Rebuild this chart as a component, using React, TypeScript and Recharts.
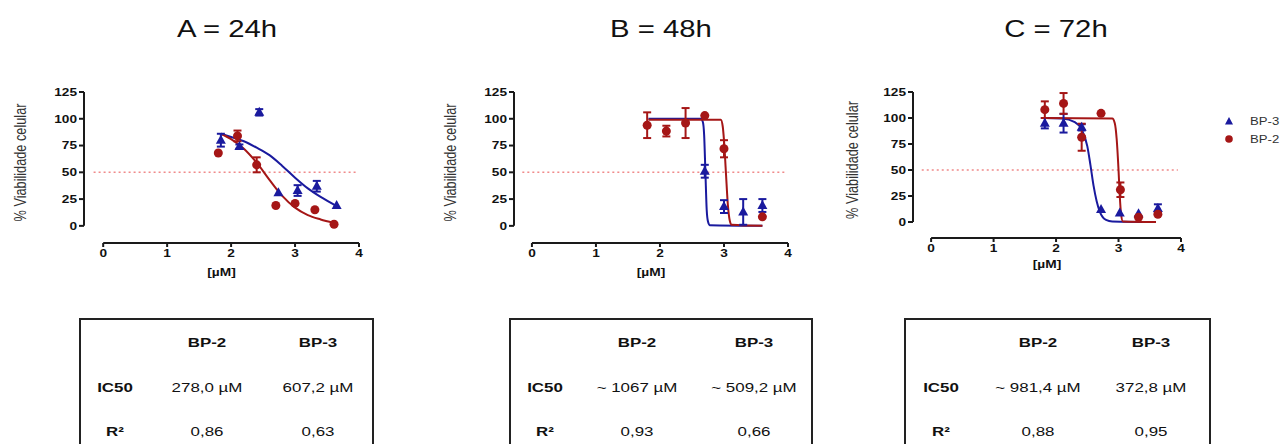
import React from 'react';
import { ComposedChart, Line, Scatter, XAxis, YAxis, ReferenceLine, ErrorBar } from 'recharts';

const FONT = '"Liberation Sans", Arial, sans-serif';
const BLUE = '#1a1a9e';
const RED = '#a51616';
const AXIS = '#1a1a1a';
const HALF = '#f08a8a';
// the source picture is stretched sideways, so text is widened to match
const STRETCH = 1.3;

const TITLES = ['A = 24h', 'B = 48h', 'C = 72h'];
const X_TICKS = [0, 1, 2, 3, 4];
const Y_TICKS = [0, 25, 50, 75, 100, 125];
const X_LABEL = '[µM]';
const Y_LABEL = '% Viabilidade celular';
const SERIES = ['BP-3', 'BP-2'];

// 24h
const A_BP3_X = [1.84, 2.13, 2.44, 2.74, 3.04, 3.34, 3.65];
const A_BP3_Y = [80, 74, 106, 31, 33, 37, 19];
const A_BP3_ERR = [6, 2, 3, 0, 5, 5, 0];
const A_BP2_X = [1.8, 2.1, 2.4, 2.7, 3.0, 3.31, 3.61];
const A_BP2_Y = [68, 84, 57, 19, 21, 15, 1.5];
const A_BP2_ERR = [0, 5, 7, 0, 0, 0, 0];
const A_BP3_FIT_X = [1.84, 2.0, 2.2, 2.4, 2.6, 2.8, 3.0, 3.2, 3.4, 3.65];
const A_BP3_FIT_Y = [86, 83, 79, 73, 66, 56, 45, 35, 27, 18.5];
const A_BP2_FIT_X = [1.84, 2.0, 2.2, 2.4, 2.6, 2.8, 3.0, 3.2, 3.4, 3.6];
const A_BP2_FIT_Y = [86, 81, 72, 59, 43, 28, 17, 10, 6, 3];

// 48h
const B_BP3_X = [2.7, 3.0, 3.3, 3.6];
const B_BP3_Y = [51, 18, 13, 19];
const B_BP3_ERR = [6, 6, 12, 6];
const B_BP2_X = [1.8, 2.1, 2.4, 2.7, 3.0, 3.6];
const B_BP2_Y = [94, 88.5, 96, 103, 72, 8.4];
const B_BP2_ERR = [12, 5, 14, 0, 8, 0];
const B_BP3_FIT_X = [1.82, 2.64, 2.67, 2.69, 2.71, 2.73, 2.75, 2.78, 3.6];
const B_BP3_FIT_Y = [100, 100, 97, 85, 50, 15, 4, 0.5, 0];
const B_BP2_FIT_X = [1.82, 2.95, 2.98, 3.0, 3.03, 3.06, 3.09, 3.12, 3.6];
const B_BP2_FIT_Y = [99, 99, 93, 80, 50, 20, 5, 1, 0];

// 72h
const C_BP3_X = [1.82, 2.12, 2.41, 2.72, 3.02, 3.32, 3.63];
const C_BP3_Y = [95, 95, 91, 12, 8.6, 8, 13];
const C_BP3_ERR = [5, 9, 3, 0, 0, 0, 4];
const C_BP2_X = [1.82, 2.12, 2.41, 2.72, 3.03, 3.32, 3.63];
const C_BP2_Y = [108, 114, 81.5, 104.5, 31, 4.5, 7.4];
const C_BP2_ERR = [8, 10, 13, 0, 7, 0, 0];
const C_BP3_FIT_X = [1.8, 2.1, 2.3, 2.4, 2.5, 2.55, 2.6, 2.65, 2.7, 2.8, 2.9, 3.6];
const C_BP3_FIT_Y = [100, 99.5, 96, 90, 73, 55, 35, 20, 10, 2, 0.5, 0];
const C_BP2_FIT_X = [1.8, 2.9, 2.94, 2.97, 3.0, 3.02, 3.04, 3.07, 3.6];
const C_BP2_FIT_Y = [100, 99.5, 95, 80, 50, 25, 8, 0.5, 0];

// tables
const TABLE_HEAD = ['BP-2', 'BP-3'];
const ROW_LABELS = ['IC50', 'R²'];
const IC50_BP2 = ['278,0 µM', '~ 1067 µM', '~ 981,4 µM'];
const IC50_BP3 = ['607,2 µM', '~ 509,2 µM', '372,8 µM'];
const R2_BP2 = ['0,86', '0,93', '0,88'];
const R2_BP3 = ['0,63', '0,66', '0,95'];

const pts = (xs: number[], ys: number[], es?: number[]) =>
  xs.map((x, i) => ({ x, y: ys[i], err: es ? es[i] : 0 }));

const PANELS = [
  {
    left: 0, width: 370, mr: 11, mb: 11, xh: 36, yw: 84, xMin: -0.3, yMin: -16, labelX: 20, titleX: 227,
    bp3: pts(A_BP3_X, A_BP3_Y, A_BP3_ERR), bp2: pts(A_BP2_X, A_BP2_Y, A_BP2_ERR),
    bp3Fit: pts(A_BP3_FIT_X, A_BP3_FIT_Y), bp2Fit: pts(A_BP2_FIT_X, A_BP2_FIT_Y),
    box: [79, 374], cols: [115, 207, 318],
  },
  {
    left: 430, width: 370, mr: 12, mb: 11, xh: 36, yw: 84, xMin: -0.28, yMin: -16, labelX: 20, titleX: 661,
    bp3: pts(B_BP3_X, B_BP3_Y, B_BP3_ERR), bp2: pts(B_BP2_X, B_BP2_Y, B_BP2_ERR),
    bp3Fit: pts(B_BP3_FIT_X, B_BP3_FIT_Y), bp2Fit: pts(B_BP2_FIT_X, B_BP2_FIT_Y),
    box: [509, 813], cols: [545, 637, 754],
  },
  {
    left: 830, width: 370, mr: 19, mb: 19, xh: 33, yw: 83, xMin: -0.29, yMin: -15.4, labelX: 22, titleX: 1056,
    bp3: pts(C_BP3_X, C_BP3_Y, C_BP3_ERR), bp2: pts(C_BP2_X, C_BP2_Y, C_BP2_ERR),
    bp3Fit: pts(C_BP3_FIT_X, C_BP3_FIT_Y), bp2Fit: pts(C_BP2_FIT_X, C_BP2_FIT_Y),
    box: [904, 1211], cols: [941, 1038, 1151],
  },
];

const Tri = (p: any) => (
  <path d={`M${p.cx},${p.cy - 5.5}L${p.cx + 5},${p.cy + 3.5}L${p.cx - 5},${p.cy + 3.5}Z`} fill={BLUE} />
);
const Dot = (p: any) => <circle cx={p.cx} cy={p.cy} r={4.5} fill={RED} />;

const makeTick = (axis: 'x' | 'y') => (p: any) => (
  <g transform={`translate(${p.x},${p.y}) scale(${STRETCH},1)`}>
    <text
      x={0}
      y={0}
      dy={axis === 'x' ? '0.72em' : '0.36em'}
      textAnchor={p.textAnchor}
      fontSize={10.5}
      fontWeight={700}
      fill="#111"
      fontFamily={FONT}
    >
      {p.payload.value}
    </text>
  </g>
);
const xTick = makeTick('x');
const yTick = makeTick('y');

function Panel({ cfg }: { cfg: (typeof PANELS)[number] }) {
  const yLabel = (props: any) => {
    const vb = props.viewBox;
    const x = vb.x + cfg.labelX;
    const y = vb.y + vb.height / 2 - 5;
    return (
      <g transform={`translate(${x},${y}) rotate(-90) scale(0.98,${STRETCH})`}>
        <text x={0} y={0} textAnchor="middle" dy="0.36em" fontSize={13} fill="#333" fontFamily={FONT}>
          {Y_LABEL}
        </text>
      </g>
    );
  };
  const xLabel = (props: any) => {
    const vb = props.viewBox;
    const x = vb.x + vb.width / 2;
    const y = vb.y + vb.height - 3;
    return (
      <g transform={`translate(${x},${y}) scale(1.25,1)`}>
        <text x={0} y={0} textAnchor="middle" fontSize={11} fontWeight={700} fill="#111" fontFamily={FONT}>
          {X_LABEL}
        </text>
      </g>
    );
  };

  return (
    <div style={{ position: 'absolute', left: cfg.left, top: 70 }}>
      <ComposedChart width={cfg.width} height={220} margin={{ top: 22, right: cfg.mr, bottom: cfg.mb, left: 0 }}>
        <XAxis
          type="number"
          dataKey="x"
          domain={[cfg.xMin, 4]}
          ticks={X_TICKS}
          allowDataOverflow
          axisLine={false}
          tickLine={{ stroke: AXIS, strokeWidth: 2 }}
          tickSize={4}
          height={cfg.xh}
          tick={xTick}
          label={xLabel}
        />
        <YAxis
          type="number"
          dataKey="y"
          domain={[cfg.yMin, 125]}
          ticks={Y_TICKS}
          allowDataOverflow
          width={cfg.yw}
          axisLine={false}
          tickLine={{ stroke: AXIS, strokeWidth: 2 }}
          tickSize={5}
          tick={yTick}
          label={yLabel}
        />
        <ReferenceLine
          segment={[{ x: cfg.xMin, y: 0 }, { x: cfg.xMin, y: 125 }]}
          stroke={AXIS}
          strokeWidth={2}
          ifOverflow="visible"
        />
        <ReferenceLine
          segment={[{ x: 0, y: cfg.yMin }, { x: 4, y: cfg.yMin }]}
          stroke={AXIS}
          strokeWidth={2}
          ifOverflow="visible"
        />
        <ReferenceLine
          segment={[{ x: -0.15, y: 50 }, { x: 3.95, y: 50 }]}
          stroke={HALF}
          strokeWidth={1.5}
          strokeDasharray="2 3"
          ifOverflow="visible"
        />
        <Line data={cfg.bp3Fit} dataKey="y" type="monotone" stroke={BLUE} strokeWidth={2} dot={false} isAnimationActive={false} />
        <Line data={cfg.bp2Fit} dataKey="y" type="monotone" stroke={RED} strokeWidth={2} dot={false} isAnimationActive={false} />
        <Scatter data={cfg.bp3} dataKey="y" name={SERIES[0]} shape={Tri} isAnimationActive={false}>
          <ErrorBar dataKey="err" direction="y" width={4} stroke={BLUE} strokeWidth={2} />
        </Scatter>
        <Scatter data={cfg.bp2} dataKey="y" name={SERIES[1]} shape={Dot} isAnimationActive={false}>
          <ErrorBar dataKey="err" direction="y" width={4} stroke={RED} strokeWidth={2} />
        </Scatter>
      </ComposedChart>
    </div>
  );
}

function Table({ cfg, i }: { cfg: (typeof PANELS)[number]; i: number }) {
  const rows = [343, 388, 432];
  const cell = (text: string, cx: number, cy: number, bold: boolean) => (
    <div
      key={`${text}-${cx}-${cy}`}
      style={{
        position: 'absolute',
        left: cx - 60,
        top: cy - 10,
        width: 120,
        height: 20,
        lineHeight: '20px',
        textAlign: 'center',
        fontSize: 13,
        fontWeight: bold ? 700 : 400,
        color: '#111',
        whiteSpace: 'nowrap',
        transform: `scaleX(${STRETCH})`,
      }}
    >
      {text}
    </div>
  );
  return (
    <>
      <div
        style={{
          position: 'absolute',
          left: cfg.box[0],
          top: 318,
          width: cfg.box[1] - cfg.box[0] - 4,
          height: 160,
          border: '2px solid #222',
        }}
      />
      {cell(TABLE_HEAD[0], cfg.cols[1], rows[0], true)}
      {cell(TABLE_HEAD[1], cfg.cols[2], rows[0], true)}
      {cell(ROW_LABELS[0], cfg.cols[0], rows[1], true)}
      {cell(IC50_BP2[i], cfg.cols[1], rows[1], false)}
      {cell(IC50_BP3[i], cfg.cols[2], rows[1], false)}
      {cell(ROW_LABELS[1], cfg.cols[0], rows[2], true)}
      {cell(R2_BP2[i], cfg.cols[1], rows[2], false)}
      {cell(R2_BP3[i], cfg.cols[2], rows[2], false)}
    </>
  );
}

function Legend() {
  const label = (text: string) => (
    <span style={{ marginLeft: 14, display: 'inline-block', transform: 'scaleX(1.25)', transformOrigin: 'left center' }}>
      {text}
    </span>
  );
  return (
    <div style={{ position: 'absolute', left: 1222, top: 112, fontSize: 10.5, color: '#333' }}>
      <div style={{ display: 'flex', alignItems: 'center', height: 18 }}>
        <svg width={14} height={12}>
          <path d="M7,2L11,9.5L3,9.5Z" fill={BLUE} />
        </svg>
        {label(SERIES[0])}
      </div>
      <div style={{ display: 'flex', alignItems: 'center', height: 18 }}>
        <svg width={14} height={12}>
          <circle cx={7} cy={6} r={3.8} fill={RED} />
        </svg>
        {label(SERIES[1])}
      </div>
    </div>
  );
}

export default function App() {
  return (
    <div
      style={{
        position: 'absolute',
        left: 0,
        top: 0,
        width: 1285,
        height: 444,
        overflow: 'hidden',
        background: '#fff',
        fontFamily: FONT,
      }}
    >
      {PANELS.map((cfg, i) => (
        <div
          key={`t${i}`}
          style={{
            position: 'absolute',
            left: cfg.titleX - 100,
            top: 17,
            width: 200,
            textAlign: 'center',
            fontSize: 24,
            lineHeight: '24px',
            color: '#111',
            transform: 'scaleX(1.22)',
          }}
        >
          {TITLES[i]}
        </div>
      ))}
      {PANELS.map((cfg, i) => (
        <Panel key={`p${i}`} cfg={cfg} />
      ))}
      <Legend />
      {PANELS.map((cfg, i) => (
        <Table key={`tb${i}`} cfg={cfg} i={i} />
      ))}
    </div>
  );
}
